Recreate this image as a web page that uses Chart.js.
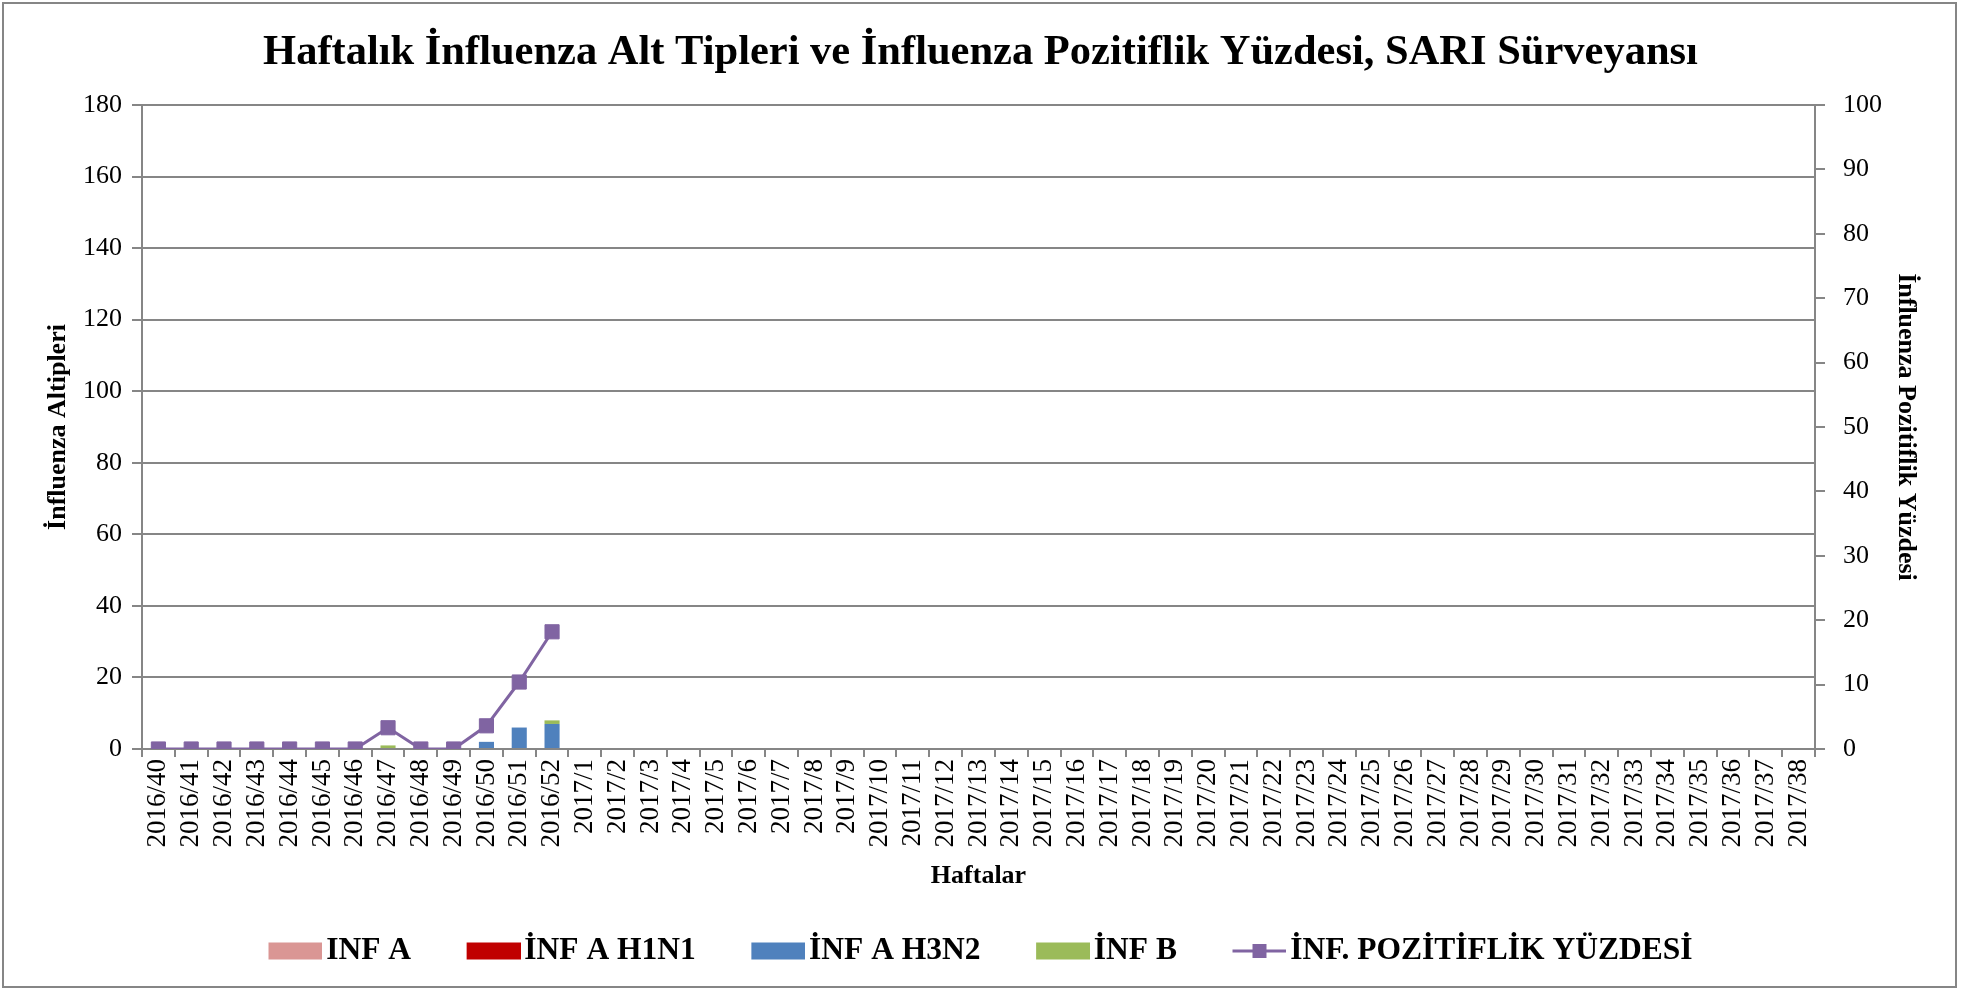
<!DOCTYPE html>
<html>
<head>
<meta charset="utf-8">
<script src="https://cdn.jsdelivr.net/npm/chart.js@4.4.1/dist/chart.umd.min.js"></script>
<style>
  html, body { margin: 0; padding: 0; background: #fff; }
  #wrap { width: 1961px; height: 990px; }
</style>
</head>
<body>
<div id="wrap"><canvas id="chart" width="1961" height="990"></canvas></div>
<script>
// Haftalar (x ekseni)
const weeks = [
  '2016/40','2016/41','2016/42','2016/43','2016/44','2016/45','2016/46','2016/47','2016/48','2016/49','2016/50','2016/51','2016/52',
  '2017/1','2017/2','2017/3','2017/4','2017/5','2017/6','2017/7','2017/8','2017/9','2017/10','2017/11','2017/12','2017/13',
  '2017/14','2017/15','2017/16','2017/17','2017/18','2017/19','2017/20','2017/21','2017/22','2017/23','2017/24','2017/25',
  '2017/26','2017/27','2017/28','2017/29','2017/30','2017/31','2017/32','2017/33','2017/34','2017/35','2017/36','2017/37','2017/38'
];

// Alt tip sayıları (sadece 2016/40 - 2016/52 arası veri var)
const infA     = [0, 0, 0, 0, 0, 0, 0, 0, 0, 0, 0, 0, 0];
const infAH1N1 = [0, 0, 0, 0, 0, 0, 0, 0, 0, 0, 0, 0, 0];
const infAH3N2 = [0, 0, 0, 0, 0, 0, 0, 0, 0, 0, 2, 6, 7];
const infB     = [0, 0, 0, 0, 0, 0, 0, 1, 0, 0, 0, 0, 1];
// Pozitiflik yüzdesi (%)
const positivity = [0, 0, 0, 0, 0, 0, 0, 3.3, 0, 0, 3.6, 10.4, 18.2];

const leftTicks = [0, 20, 40, 60, 80, 100, 120, 140, 160, 180];
const rightTicks = [0, 10, 20, 30, 40, 50, 60, 70, 80, 90, 100];

const FONT = "'Liberation Serif', 'Times New Roman', serif";
const GRID = '#868686';

// legend simgeleri (kutu + çizgi)
function swatch(fill, isLine) {
  const c = document.createElement('canvas');
  c.width = 66; c.height = 22;
  const g = c.getContext('2d');
  if (isLine) {
    g.strokeStyle = fill; g.lineWidth = 3;
    g.beginPath(); g.moveTo(12, 11); g.lineTo(66, 11); g.stroke();
    g.fillStyle = fill; g.fillRect(32, 4, 14, 14);
  } else {
    g.fillStyle = fill; g.fillRect(12, 2.5, 54, 17);
  }
  return c;
}

const pad = arr => arr.concat(new Array(weeks.length - arr.length).fill(null));

const frame = {
  id: 'frame',
  beforeDraw(chart) {
    const ctx = chart.ctx;
    ctx.save();
    ctx.fillStyle = '#fff';
    ctx.fillRect(0, 0, chart.width, chart.height);
    ctx.strokeStyle = GRID;
    ctx.lineWidth = 2;
    ctx.strokeRect(3, 3, 1953, 984);
    ctx.restore();
  }
};

const ctx = document.getElementById('chart').getContext('2d');
new Chart(ctx, {
  type: 'bar',
  data: {
    labels: weeks,
    datasets: [
      { label: 'INF A', data: pad(infA), backgroundColor: '#DA9694', yAxisID: 'y', order: 1 },
      { label: 'İNF A H1N1', data: pad(infAH1N1), backgroundColor: '#C00000', yAxisID: 'y', order: 1 },
      { label: 'İNF A H3N2', data: pad(infAH3N2), backgroundColor: '#4F81BD', yAxisID: 'y', order: 1 },
      { label: 'İNF B', data: pad(infB), backgroundColor: '#9BBB59', yAxisID: 'y', order: 1 },
      {
        type: 'line', label: 'İNF. POZİTİFLİK YÜZDESİ', data: pad(positivity),
        borderColor: '#8064A2', backgroundColor: '#8064A2', borderWidth: 3,
        pointStyle: 'rect', pointRadius: 10, pointBorderWidth: 1,
        pointBackgroundColor: '#8064A2', pointBorderColor: '#8064A2',
        yAxisID: 'y1', order: 0, tension: 0, spanGaps: false
      }
    ]
  },
  options: {
    responsive: false,
    animation: false,
    layout: { padding: { left: 10, right: 10, top: 0, bottom: 13.25 } },
    datasets: { bar: { barPercentage: 0.46, categoryPercentage: 1 } },
    plugins: {
      tooltip: { enabled: false },
      title: {
        display: true,
        text: 'Haftalık İnfluenza Alt Tipleri ve İnfluenza Pozitiflik Yüzdesi, SARI Sürveyansı',
        color: '#000',
        font: { family: FONT, size: 42.5, weight: 'bold' },
        padding: { top: 27.5, bottom: 26.5 }
      },
      legend: {
        position: 'bottom',
        labels: {
          usePointStyle: true,
          pointStyleWidth: 42,
          padding: 55.5,
          color: '#000',
          font: { family: FONT, size: 31.5, weight: 'bold' },
          generateLabels(chart) {
            return chart.data.datasets.map((ds, i) => ({
              text: ds.label,
              pointStyle: swatch(ds.type === 'line' ? ds.borderColor : ds.backgroundColor, ds.type === 'line'),
              fillStyle: ds.backgroundColor,
              strokeStyle: 'transparent',
              lineWidth: 0,
              fontColor: '#000',
              hidden: false,
              datasetIndex: i
            }));
          }
        }
      }
    },
    scales: {
      x: {
        stacked: true,
        afterFit: s => { s.height = 130.75; },
        grid: { display: true, drawOnChartArea: false, color: GRID, lineWidth: 2, tickLength: 8, offset: true },
        border: { color: GRID, width: 2 },
        ticks: {
          color: '#000', font: { family: FONT, size: 27 },
          minRotation: 90, maxRotation: 90, autoSkip: false, padding: 2
        },
        title: {
          display: true, text: 'Haftalar', color: '#000',
          font: { family: FONT, size: 26, weight: 'bold' },
          padding: { top: 0, bottom: -11.85 }
        }
      },
      y: {
        stacked: true,
        position: 'left',
        min: 0, max: 180,
        afterBuildTicks: s => { s.ticks = leftTicks.map(v => ({ value: v })); },
        afterFit: s => { s.width = 132; },
        grid: { color: GRID, lineWidth: 2, tickLength: 10 },
        border: { color: GRID, width: 2 },
        ticks: { color: '#000', font: { family: FONT, size: 26 }, padding: 10 },
        title: {
          display: true, text: 'İnfluenza Altipleri', color: '#000',
          font: { family: FONT, size: 26, weight: 'bold' },
          padding: { top: 32.5, bottom: 0 }
        }
      },
      y1: {
        position: 'right',
        min: 0, max: 100,
        afterBuildTicks: s => { s.ticks = rightTicks.map(v => ({ value: v })); },
        afterFit: s => { s.width = 136; },
        grid: { drawOnChartArea: false, color: GRID, lineWidth: 2, tickLength: 10 },
        border: { color: GRID, width: 2 },
        ticks: { color: '#000', font: { family: FONT, size: 26 }, padding: 18 },
        title: {
          display: true, text: 'İnfluenza Pozitiflik Yüzdesi', color: '#000',
          font: { family: FONT, size: 26, weight: 'bold' },
          padding: { top: 30, bottom: 0 }
        }
      }
    }
  },
  plugins: [frame]
});
</script>
</body>
</html>
